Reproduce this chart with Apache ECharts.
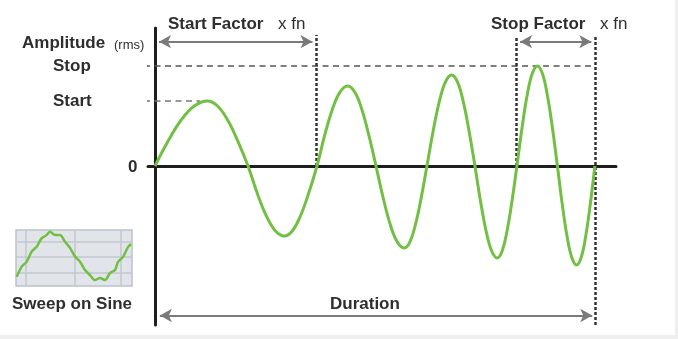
<!DOCTYPE html>
<html><head><meta charset="utf-8">
<script src="https://cdn.jsdelivr.net/npm/echarts@6/dist/echarts.min.js"></script>
<style>html,body{margin:0;padding:0;background:#fff}#c{width:678px;height:339px}</style>
</head><body><div id="c"></div>
<script>
// ---- data ----
// main sweep: time in units where Duration = 10, amplitude where Stop = 1
const sweepTime = [0, 0.297, 0.594, 0.892, 1.189, 1.420, 1.651, 1.882, 2.114, 2.320, 2.526, 2.733, 2.939, 3.125, 3.310, 3.496,
  3.682, 3.856, 4.031, 4.205, 4.380, 4.540, 4.701, 4.862, 5.023, 5.184, 5.344, 5.505, 5.666, 5.795, 5.924, 6.053,
  6.182, 6.322, 6.463, 6.603, 6.743, 6.876, 7.008, 7.140, 7.273, 7.400, 7.526, 7.653, 7.780, 7.892, 8.003, 8.115,
  8.227, 8.344, 8.460, 8.577, 8.693, 8.807, 8.920, 9.034, 9.148, 9.257, 9.366, 9.475, 9.584, 9.688, 9.792, 9.896, 10.0];
const sweepAmp = [0, 0.249, 0.46, 0.60, 0.65, 0.60, 0.46, 0.249, 0, -0.268, -0.495, -0.647, -0.70, -0.647, -0.495, -0.268,
  0, 0.306, 0.566, 0.739, 0.80, 0.739, 0.566, 0.306, 0, -0.314, -0.58, -0.758, -0.82, -0.758, -0.58, -0.314,
  0, 0.348, 0.643, 0.841, 0.91, 0.841, 0.643, 0.348, 0, -0.352, -0.65, -0.85, -0.92, -0.85, -0.65, -0.352,
  0, 0.383, 0.707, 0.924, 1.00, 0.924, 0.707, 0.383, 0, -0.379, -0.70, -0.915, -0.99, -0.915, -0.70, -0.379, 0];
const startLevel = 0.65;
const stopLevel = 1.0;
const startFactorEnd = 3.67;
const stopFactorStart = 8.21;
const durationEnd = 10;
const levelLabels = ['Stop', 'Start', '0'];
// inset "Sweep on Sine" icon
const insetX = [0.7, 5.7, 10.7, 15.7, 20.7, 25.7, 30.7, 34, 39, 44, 49, 54, 59, 64, 69, 74, 79, 84, 89, 94, 99, 102, 107, 112, 115];
const insetY = [-0.67, -0.31, -0.13, 0.23, 0.40, 0.71, 0.82, 0.94, 0.82, 0.82, 0.58, 0.36, 0.05, -0.13, -0.43, -0.61, -0.79, -0.71, -0.79, -0.54, -0.43, -0.14, 0.04, 0.39, 0.5];
const insetGridX = [10, 59, 105];
const insetGridY = [0.57, 0.04, -0.54];

const GREEN = '#72bf44';
const TXT = '#2e2e2e';
const ARROW = '#7a7a7a';

const chart = echarts.init(document.getElementById('c'), null, {renderer: 'canvas'});
const zip = (a, b) => a.map((v, i) => [v, b[i]]);

const dotted = {type: [3, 2], width: 2.5, color: '#333'};
const arrowY = 1.243, durY = -1.495;

const option = {
  animation: false,
  backgroundColor: '#fff',
  grid: [
    {left: 148, right: 62, top: 28, bottom: 14, containLabel: false},
    {left: 16, top: 230, width: 116, height: 56, show: true, backgroundColor: '#e1e4e8', borderColor: '#bcc2ca', borderWidth: 1.5}
  ],
  xAxis: [
    {type: 'value', min: -0.16, max: 10.48, gridIndex: 0,
     axisLine: {show: true, onZero: true, lineStyle: {color: '#1e1e1e', width: 3}},
     axisTick: {show: false}, axisLabel: {show: false}, splitLine: {show: false}},
    {type: 'value', min: 0, max: 116, gridIndex: 1, show: false}
  ],
  yAxis: [
    {type: 'value', min: -1.59, max: 1.38, gridIndex: 0,
     axisLine: {show: true, onZero: true, lineStyle: {color: '#1e1e1e', width: 3}},
     axisTick: {show: false}, axisLabel: {show: false}, splitLine: {show: false}},
    {type: 'value', min: -1, max: 1, gridIndex: 1, show: false}
  ],
  series: [
    {type: 'line', name: 'stopLevel', xAxisIndex: 0, yAxisIndex: 0, clip: false, symbol: 'none', silent: true, z: 1,
     data: [[-0.25, stopLevel], [durationEnd, stopLevel]],
     lineStyle: {type: [6, 4.5], width: 1.5, color: '#555'},
     markLine: {
       silent: true, symbol: ['none', 'none'], label: {show: false}, animation: false,
       lineStyle: dotted,
       data: [
         [{coord: [startFactorEnd, 0]}, {coord: [startFactorEnd, 1.31]}],
         [{coord: [stopFactorStart, 0]}, {coord: [stopFactorStart, 1.28]}],
         [{coord: [durationEnd, -1.59]}, {coord: [durationEnd, 1.31]}]
       ]
     }},
    {type: 'line', name: 'startLevel', xAxisIndex: 0, yAxisIndex: 0, clip: false, symbol: 'none', silent: true, z: 1,
     data: [[-0.25, startLevel], [1.02, startLevel]],
     lineStyle: {type: [6, 4.5], width: 1.5, color: '#777'},
     markLine: {
       silent: true, symbol: ['arrow', 'arrow'], symbolSize: [10, 12], label: {show: false}, animation: false,
       lineStyle: {type: 'solid', width: 2, color: ARROW},
       data: [
         [{coord: [0.09, arrowY]}, {coord: [3.58, arrowY]}],
         [{coord: [8.30, arrowY]}, {coord: [9.92, arrowY]}],
         [{coord: [0.11, durY]}, {coord: [9.94, durY]}]
       ]
     }},
    {type: 'line', name: 'sweep', xAxisIndex: 0, yAxisIndex: 0, symbol: 'none', smooth: 0.4, z: 5, silent: true,
     data: zip(sweepTime, sweepAmp),
     lineStyle: {color: GREEN, width: 3}},
    {type: 'line', name: 'inset', xAxisIndex: 1, yAxisIndex: 1, symbol: 'none', smooth: 0.3, z: 5, silent: true,
     data: zip(insetX, insetY),
     lineStyle: {color: GREEN, width: 2.5},
     markLine: {
       silent: true, symbol: ['none', 'none'], label: {show: false}, animation: false,
       lineStyle: {type: 'solid', width: 1.5, color: '#c2c8d0'},
       data: insetGridX.map(v => ({xAxis: v})).concat(insetGridY.map(v => ({yAxis: v})))
     }}
  ]
};
chart.setOption(option);

const font = (w, s) => ({fontFamily: 'Liberation Sans, Arial, sans-serif', fontWeight: w, fontSize: s, fill: TXT, verticalAlign: 'middle'});
const yPix = v => chart.convertToPixel({gridIndex: 0}, [0, v])[1];

chart.setOption({
  graphic: [
    {type: 'rect', shape: {x: 675, y: 0, width: 3, height: 339}, style: {fill: '#efefef'}, silent: true},
    {type: 'rect', shape: {x: 0, y: 335, width: 678, height: 4}, style: {fill: '#efefef'}, silent: true},
    {type: 'text', x: 168, y: 24.5, style: Object.assign({text: 'Start Factor'}, font('bold', 17))},
    {type: 'text', x: 278, y: 24.5, style: Object.assign({text: 'x fn'}, font('normal', 17))},
    {type: 'text', x: 491, y: 24.5, style: Object.assign({text: 'Stop Factor'}, font('bold', 17))},
    {type: 'text', x: 600, y: 24.5, style: Object.assign({text: 'x fn'}, font('normal', 17))},
    {type: 'text', x: 22, y: 43, style: Object.assign({text: 'Amplitude'}, font('bold', 17))},
    {type: 'text', x: 114, y: 45, style: Object.assign({text: '(rms)'}, font('normal', 13))},
    {type: 'text', x: 53, y: yPix(stopLevel) + 0.3, style: Object.assign({text: levelLabels[0]}, font('bold', 17))},
    {type: 'text', x: 53, y: yPix(startLevel), style: Object.assign({text: levelLabels[1]}, font('bold', 17))},
    {type: 'text', x: 128, y: yPix(0) + 1.5, style: Object.assign({text: levelLabels[2]}, font('bold', 17))},
    {type: 'text', x: 330, y: 304.5, style: Object.assign({text: 'Duration'}, font('bold', 17))},
    {type: 'text', x: 12, y: 304, style: Object.assign({text: 'Sweep on Sine'}, font('bold', 17))}
  ]
});
</script></body></html>
